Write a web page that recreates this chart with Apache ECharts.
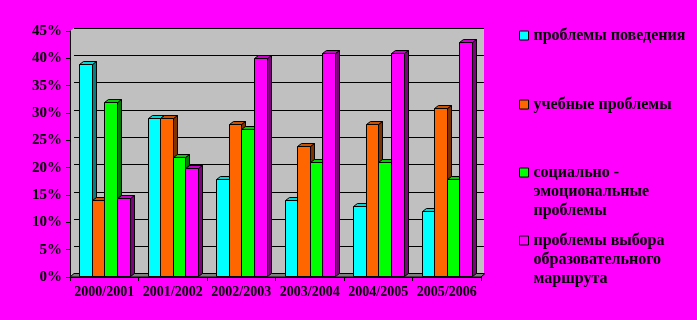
<!DOCTYPE html>
<html><head><meta charset="utf-8">
<script src="https://cdn.jsdelivr.net/npm/echarts@6/dist/echarts.min.js"></script>
<style>html,body{margin:0;padding:0;background:#FF00FF;}#c{width:697px;height:320px;}</style>
</head><body><div id="c"></div>
<script>
const categories = ['2000/2001','2001/2002','2002/2003','2003/2004','2004/2005','2005/2006'];
const seriesNames = ['проблемы поведения','учебные проблемы','социально - эмоциональные проблемы','проблемы выбора образовательного маршрута'];
const legendLabels = ['проблемы поведения','учебные проблемы','социально -\nэмоциональные\nпроблемы','проблемы выбора\nобразовательного\nмаршрута'];
const behaviour = [39, 29, 18, 14, 13, 12];
const study = [14, 29, 28, 24, 28, 31];
const social = [32, 22, 27, 21, 21, 18];
const route = [14.5, 20, 40, 41, 41, 43];
const yTicks = [0,5,10,15,20,25,30,35,40,45];

const values = [behaviour, study, social, route];
const fronts = ['#00FFFF','#FF6600','#00FF00','#FF00FF'];
const tops = ['#00D8D8','#CC5200','#00D000','#CC00CC'];
const sides = ['#008080','#803300','#008000','#800080'];
const FONT = 'Liberation Serif';

function makeRender(i){
  return function(params, api){
    const ci = api.value(0), v = api.value(1);
    const base = api.coord([ci, 0]);
    const top = api.coord([ci, v]);
    const bw = api.size([1, 0])[0];
    const w = bw * 0.183;
    const x0 = base[0] - bw/2 + bw*0.137 + i*w;
    const xl = Math.round(x0)+0.5, xr = Math.round(x0+w)+0.5;
    const yt = Math.round(top[1])+0.5, yb = Math.round(base[1])-0.5;
    const dx = 4, dy = 3;
    return {type:'group', children:[
      {type:'polygon', shape:{points:[[xr,yt],[xr+dx,yt-dy],[xr+dx,yb-dy],[xr,yb]]}, style:{fill:sides[i], stroke:'#000', lineWidth:1}},
      {type:'polygon', shape:{points:[[xl,yt],[xl+dx,yt-dy],[xr+dx,yt-dy],[xr,yt]]}, style:{fill:tops[i], stroke:'#000', lineWidth:1}},
      {type:'rect', shape:{x:xl, y:yt, width:xr-xl, height:yb-yt}, style:{fill:fronts[i], stroke:'#000', lineWidth:1}}
    ]};
  };
}

const series = values.map((arr, i) => ({
  type:'custom', name: seriesNames[i], xAxisIndex:1, yAxisIndex:1, z:5,
  itemStyle:{color: fronts[i], borderColor:'#000', borderWidth:1},
  encode:{x:0, y:1},
  data: arr.map((v, k) => [k, v]),
  renderItem: makeRender(i)
}));

const legendTops = [26, 95, 125, 193];
const legend = seriesNames.map((n, i) => ({
  data:[n], left:519, top:legendTops[i], orient:'vertical', padding:0,
  icon:'rect', itemWidth:9, itemHeight:9, itemGap:0,
  itemStyle:{borderColor:'#000', borderWidth:1},
  textStyle:{fontFamily:FONT, fontWeight:'bold', fontSize:16, color:'#000', lineHeight:19},
  formatter: () => (i >= 2 ? '\n\n' : '') + legendLabels[i]
}));

const chart = echarts.init(document.getElementById('c'), null, {renderer:'canvas'});
chart.setOption({
  animation:false,
  backgroundColor:'#FF00FF',
  grid:[
    {left:74, top:28, width:410, height:246, show:true, backgroundColor:'#C0C0C0', borderWidth:0},
    {left:70, top:31, width:411, height:246}
  ],
  graphic:[
    {type:'polygon', z:1, shape:{points:[[70,31],[74,28],[74,274],[70,277]]}, style:{fill:'#C0C0C0'}},
    {type:'polygon', z:1, shape:{points:[[70,277],[74,273.5],[485,273.5],[481,277]]}, style:{fill:'#808080', stroke:'#000', lineWidth:1}}
  ],
  xAxis:[
    {gridIndex:0, type:'category', data:categories, show:false},
    {gridIndex:1, type:'category', data:categories, z:3,
     axisLine:{lineStyle:{color:'#000', width:1}},
     axisTick:{show:true, interval:0, length:4, lineStyle:{color:'#000'}},
     axisLabel:{interval:0, margin:8, fontFamily:FONT, fontWeight:'bold', fontSize:14, color:'#000'}}
  ],
  yAxis:[
    {gridIndex:0, type:'value', min:0, max:45, interval:5,
     axisLine:{show:false}, axisTick:{show:false}, axisLabel:{show:false},
     splitLine:{show:true, lineStyle:{color:'#000', width:1}}},
    {gridIndex:1, type:'value', min:yTicks[0], max:yTicks[yTicks.length-1], interval:5, z:3,
     axisLine:{show:true, lineStyle:{color:'#000', width:1}},
     axisTick:{show:true, length:4, lineStyle:{color:'#000'}},
     splitLine:{show:false},
     axisLabel:{margin:8, formatter:'{value}%', fontFamily:FONT, fontWeight:'bold', fontSize:15, color:'#000'}}
  ],
  legend: legend,
  series: series
});
</script></body></html>
